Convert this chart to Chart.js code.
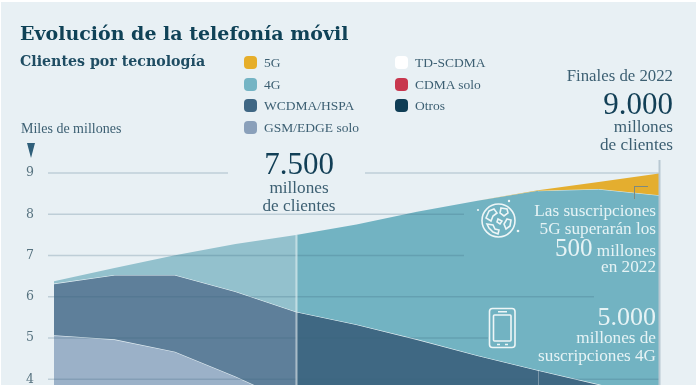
<!DOCTYPE html>
<html lang="es">
<head>
<meta charset="utf-8">
<title>Evolución de la telefonía móvil</title>
<script src="https://cdn.jsdelivr.net/npm/chart.js@4"></script>
<style>
  html, body { margin: 0; padding: 0; background: #fff; }
  #page { position: absolute; left: 1px; top: 2px; width: 695px; height: 383px; background: #e8f0f4; }
  #wrap { position: absolute; left: 0; top: 0; width: 696px; height: 385px; overflow: hidden; font-family: "Liberation Serif", serif; color: #3c5f72; }
  canvas { position: absolute; left: 0; top: 0; }
  .t { position: absolute; white-space: nowrap; }
  .r { text-align: right; }
  .c { text-align: center; transform: translateX(-50%); }
  .light { color: #e6f3f5; }
  .num { color: #123f56; font-size: 31px; line-height: 31px; }
  .sw { position: absolute; width: 13px; height: 13px; border-radius: 4px; }
  svg { position: absolute; }
</style>
</head>
<body>
<div id="page"></div>
<div id="wrap">
  <canvas id="chart" width="696" height="385"></canvas>
  <div id="legend"></div>

  <div class="t" style="left:20px;top:20px;font:bold 19px/26px 'DejaVu Serif',serif;color:#0f4257">Evolución de la telefonía móvil</div>
  <div class="t" style="left:20px;top:52px;font:bold 14.2px/18px 'DejaVu Serif',serif;color:#1f4d63">Clientes por tecnología</div>
  <div class="t" style="left:21px;top:121px;font-size:14px;line-height:16px">Miles de millones</div>
  <svg style="left:27px;top:143px" width="8" height="15"><path d="M0 0H8L4 15Z" fill="#2f5f7a"/></svg>

  <div class="t r" style="right:23px;top:67px;font-size:16.8px;line-height:18px">Finales de 2022</div>
  <div class="t r num" style="right:23px;top:88px">9.000</div>
  <div class="t r" style="right:23px;top:118px;font-size:17.2px;line-height:18px">millones<br>de clientes</div>

  <div class="t c num" style="left:299px;top:148px">7.500</div>
  <div class="t c" style="left:299px;top:179px;font-size:17.2px;line-height:18px">millones<br>de clientes</div>

  <div class="t r light" style="right:40px;top:202px;font-size:17.2px;line-height:18px">Las suscripciones<br>5G superarán los</div>
  <div class="t r light" style="right:40px;top:236px;font-size:17.2px;line-height:24px"><span style="font-size:25px">500</span> millones</div>
  <div class="t r light" style="right:40px;top:258px;font-size:17.2px;line-height:18px">en 2022</div>

  <div class="t r light" style="right:40px;top:304px;font-size:26px;line-height:26px">5.000</div>
  <div class="t r light" style="right:40px;top:329px;font-size:17.2px;line-height:18px">millones de<br>suscripciones 4G</div>

  <!-- callout from the 5G wedge -->
  <div style="position:absolute;left:634px;top:186px;width:13px;height:12px;border-left:1px solid #7d8a80;border-top:1px solid #7d8a80"></div>

  <!-- globe icon -->
  <svg style="left:476px;top:198px" width="46" height="42" fill="none" stroke="#eef6f7" stroke-width="1.6">
    <circle cx="22.5" cy="22.5" r="16.5"/>
    <path d="M13 13l5-2 3 4-4 3-2 5-5-3zM25 10l6 1 1 4-4 3-4-3zM11 26l6 1 2 4 4 1-1 4-5-2-4-4zM31 21l4 1-1 6-4 3-2-5zM22 21l4 2-2 3-3-2z"/>
    <circle cx="2" cy="12" r="1.1" fill="#eef6f7" stroke="none"/>
    <circle cx="33" cy="3" r="1.2" fill="#eef6f7" stroke="none"/>
    <circle cx="42" cy="33" r="1.3" fill="#eef6f7" stroke="none"/>
  </svg>

  <!-- phone icon -->
  <svg style="left:488px;top:307px" width="29" height="42" fill="none" stroke="#eef6f7" stroke-width="1.6">
    <rect x="1.5" y="1.5" width="25.5" height="39" rx="3"/>
    <rect x="5.5" y="8" width="17.5" height="26" rx="1"/>
    <path d="M10 4.8H19M9 37.5H12M17 37.5H20"/>
  </svg>
</div>

<script>
  // Each array is the upper edge of that band, so the bands stack up by hand.
  const years = ["2012", "2013", "2014", "2015", "2016", "2017", "2018", "2019", "2020", "2021", "2022"];
  const top5G = [6.38, 6.7, 7.01, 7.28, 7.5, 7.75, 8.06, 8.33, 8.58, 8.78, 8.99];
  const top4G = [6.38, 6.7, 7.01, 7.28, 7.5, 7.75, 8.06, 8.33, 8.57, 8.61, 8.46];
  const topWcdma = [6.32, 6.53, 6.53, 6.13, 5.64, 5.33, 4.97, 4.58, 4.22, 3.88, 3.55];
  const topGsm = [5.07, 4.97, 4.67, 4.07, 3.4, 2.9, 2.4, 1.9, 1.5, 1.2, 0.9];

  const yTicks = [4, 5, 6, 7, 8, 9];

  const legendLabels = ["5G", "4G", "WCDMA/HSPA", "GSM/EDGE solo", "TD-SCDMA", "CDMA solo", "Otros"];
  const legendColors = ["#e6ae2a", "#74b4c4", "#3f6784", "#8aa0ba", "#ffffff", "#c8374e", "#0f3d55"];

  // Build the legend, two columns
  const legendEl = document.getElementById("legend");
  const legendRows = [56, 78, 99, 121, 56, 78, 99];
  legendLabels.forEach((label, i) => {
    const left = i < 4 ? 244 : 395;
    legendEl.innerHTML +=
      `<div class="sw" style="left:${left}px;top:${legendRows[i]}px;background:${legendColors[i]}"></div>` +
      `<div class="t" style="left:${left + 20}px;top:${legendRows[i] - 1}px;font-size:13.5px;line-height:16px">${label}</div>`;
  });

  // Years up to this index sit in the paler, historic part of the chart
  const splitIndex = 4;
  const shade = (past, future) => (ctx) => (ctx.p0DataIndex < splitIndex ? past : future);

  // Grid lines stop where text and icons sit, so they are drawn by hand
  const gridRuns = {
    9: [[48, 228], [365, 659]],
    8: [[48, 464]],
    7: [[48, 464]],
    6: [[48, 594]],
    5: [[48, 488]],
    4: [[48, 659]],
  };

  const overlays = {
    id: "overlays",
    afterDatasetsDraw(chart) {
      const { ctx, scales: { x, y }, chartArea } = chart;
      ctx.save();

      ctx.lineWidth = 1.5;
      ctx.strokeStyle = "rgba(60, 100, 125, 0.24)";
      yTicks.forEach((tick) => {
        gridRuns[tick].forEach(([from, to]) => {
          ctx.beginPath();
          ctx.moveTo(from, y.getPixelForValue(tick));
          ctx.lineTo(to, y.getPixelForValue(tick));
          ctx.stroke();
        });
      });

      // 2016 marker
      ctx.lineWidth = 2;
      ctx.strokeStyle = "rgba(255, 255, 255, 0.55)";
      ctx.beginPath();
      ctx.moveTo(x.getPixelForValue(4) + 0.5, y.getPixelForValue(top5G[4]));
      ctx.lineTo(x.getPixelForValue(4) + 0.5, chartArea.bottom);
      ctx.stroke();

      // 2020 marker
      ctx.lineWidth = 1;
      ctx.strokeStyle = "rgba(255, 255, 255, 0.3)";
      ctx.beginPath();
      ctx.moveTo(x.getPixelForValue(8) + 0.5, y.getPixelForValue(topWcdma[8]));
      ctx.lineTo(x.getPixelForValue(8) + 0.5, chartArea.bottom);
      ctx.stroke();

      // closing rule at end of 2022
      ctx.lineWidth = 2;
      ctx.strokeStyle = "#b8c8d2";
      ctx.beginPath();
      ctx.moveTo(chartArea.right + 0.5, chartArea.top);
      ctx.lineTo(chartArea.right + 0.5, chartArea.bottom);
      ctx.stroke();

      ctx.restore();
    },
  };

  new Chart(document.getElementById("chart"), {
    type: "line",
    data: {
      labels: years,
      datasets: [
        {
          label: "5G",
          data: top5G,
          fill: "+1",
          backgroundColor: "#e4ae2f",
          borderWidth: 0,
          borderColor: "transparent",
        },
        {
          label: "4G",
          data: top4G,
          fill: "+1",
          backgroundColor: "#72b3c2",
          borderWidth: 1,
          borderColor: "transparent",
          segment: {
            backgroundColor: shade("#93c1cd", "#72b3c2"),
            borderColor: (ctx) => (ctx.p0DataIndex >= 8 ? "#d6e8ea" : "transparent"),
          },
        },
        {
          label: "WCDMA/HSPA",
          data: topWcdma,
          fill: "+1",
          backgroundColor: "#3f6883",
          borderWidth: 1.2,
          borderColor: "#e4eff3",
          segment: { backgroundColor: shade("#5e7f9a", "#3f6883") },
        },
        {
          label: "GSM/EDGE solo",
          data: topGsm,
          fill: "start",
          backgroundColor: "#9bb1c8",
          borderWidth: 1.2,
          borderColor: "#e4eff3",
        },
      ],
    },
    options: {
      responsive: false,
      animation: false,
      layout: { padding: { top: 160, right: 37, bottom: 0, left: 0 } },
      elements: { point: { radius: 0 }, line: { tension: 0 } },
      plugins: { legend: { display: false }, tooltip: { enabled: false } },
      scales: {
        x: { display: false },
        y: {
          min: 3.863,
          max: 9.315,
          afterFit: (scale) => {
            scale.width = 54;
            scale.paddingTop = 0;
            scale.paddingBottom = 0;
          },
          grid: { display: false, drawTicks: false },
          border: { display: false },
          ticks: {
            stepSize: 1,
            includeBounds: false,
            padding: 20,
            color: "#56727f",
            font: { family: "'DejaVu Serif', serif", size: 12.5 },
          },
        },
      },
    },
    plugins: [overlays],
  });
</script>
</body>
</html>
